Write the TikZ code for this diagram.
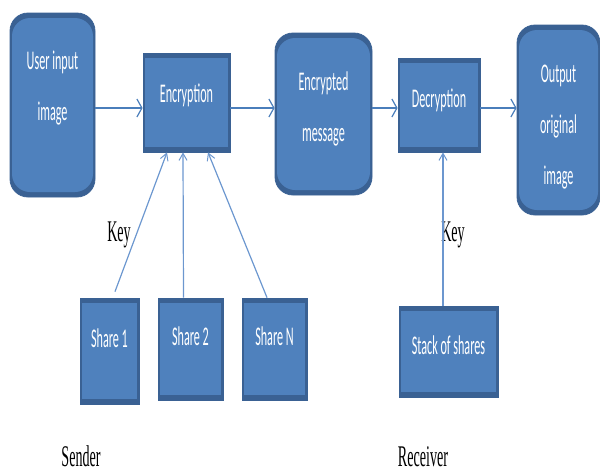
\documentclass[tikz,border=0pt]{standalone}
\usepackage{fontspec}
\setsansfont[FakeStretch=0.45]{Carlito}
\newfontfamily\keyfont[FakeStretch=0.47]{Liberation Serif}
\usetikzlibrary{arrows.meta}
\definecolor{boxblue}{HTML}{4F81BD}
\definecolor{bandblue}{HTML}{3A6193}
\definecolor{flowblue}{HTML}{4A7EBB}
\definecolor{linkblue}{HTML}{6C97CF}
\tikzset{
  box/.style={draw=bandblue,line width=0.8pt,fill=bandblue,
    path picture={\fill[boxblue]
      ([xshift=2pt,yshift=-5pt]path picture bounding box.north west) rectangle
      ([xshift=-2pt,yshift=5pt]path picture bounding box.south east);}},
  rbox/.style={box,rounded corners=18pt},
  txt/.style={text=white,font=\sffamily\fontsize{27}{51}\selectfont,align=center},
  flow/.style={draw=flowblue,line width=2pt,-{Straight Barb[length=5pt,width=18pt,line width=1.2pt]}},
  link/.style={draw=linkblue,line width=1.2pt,-{Straight Barb[length=7pt,width=8pt,line width=1pt]}},
  note/.style={font=\keyfont\fontsize{30}{32}\selectfont,inner sep=0pt}
}
\begin{document}
\begin{tikzpicture}[x=1pt,y=-1pt]
  \useasboundingbox (0,0) rectangle (600,475);
  % main row
  \node[rbox,minimum width=85pt,minimum height=184pt] (user) at (52.5,105) {};
  \node[box,minimum width=87pt,minimum height=99pt] (enc) at (186.5,102.5) {};
  \node[rbox,minimum width=97pt,minimum height=162pt] (msg) at (323.5,114) {};
  \node[box,minimum width=82pt,minimum height=94pt] (dec) at (439,105) {};
  \node[rbox,minimum width=83pt,minimum height=190pt] (out) at (558.5,120) {};
  % shares
  \node[box,minimum width=59pt,minimum height=106pt] (s1) at (109.5,351) {};
  \node[box,minimum width=65pt,minimum height=102pt] (s2) at (190.5,349) {};
  \node[box,minimum width=65pt,minimum height=102pt] (sN) at (274.5,349) {};
  \node[box,minimum width=99pt,minimum height=91pt] (stack) at (448.5,351.5) {};
  % texts
  \node[txt] (userT) at ([yshift=17pt]user.center) {User input\\image};
  \node[txt] (encT) at ([yshift=7pt]enc.center) {Encryption};
  \node[txt] (msgT) at ([yshift=5pt]msg.center) {Encrypted\\message};
  \node[txt] (decT) at ([yshift=5pt]dec.center) {Decryption};
  \node[txt] (outT) at ([yshift=-7pt]out.center) {Output\\original\\image};
  \node[txt] (s1T) at ([yshift=13pt]s1.center) {Share 1};
  \node[txt] (s2T) at ([yshift=13pt]s2.center) {Share 2};
  \node[txt] (sNT) at ([yshift=13pt]sN.center) {Share N};
  \node[txt] (stackT) at ([yshift=6pt]stack.center) {Stack of shares};
  \node[note] (key1) at (119,235) {Key};
  \node[note] (key2) at (453,235) {Key};
  \node[note,anchor=base] (sender) at (81,466) {Sender};
  \node[note,anchor=base] (receiver) at (423,466) {Receiver};
  % connectors
  \coordinate (row) at (0,108);
  \draw[flow] (user.east |- row) -- (enc.west |- row);
  \draw[flow] (enc.east |- row) -- (msg.west |- row);
  \draw[flow] (msg.east |- row) -- (dec.west |- row);
  \draw[flow] (dec.east |- row) -- (out.west |- row);
  \draw[link] ([xshift=5.5pt,yshift=6pt]s1.north) -- ([xshift=-19.5pt]enc.south);
  \draw[link] ([xshift=-7pt]s2.north) -- ([xshift=-3.5pt]enc.south);
  \draw[link] ([xshift=-7.5pt]sN.north) -- ([xshift=21.5pt]enc.south);
  \draw[link] ([xshift=-5.5pt]stack.north) -- ([xshift=4pt]dec.south);
\end{tikzpicture}
\end{document}
